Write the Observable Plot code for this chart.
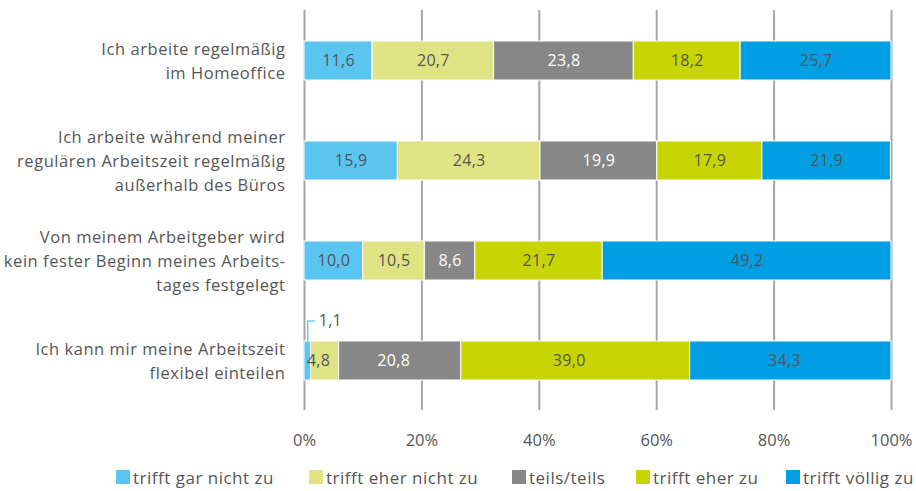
<!DOCTYPE html>
<html>
<head>
<meta charset="utf-8">
<script src="https://cdn.jsdelivr.net/npm/d3@7"></script>
<script src="https://cdn.jsdelivr.net/npm/@observablehq/plot@0.6"></script>
<style>
  body { margin: 0; background: #fff; font-family: "Open Sans", sans-serif; }
  #chart { width: 916px; }
  #chart svg g[aria-label="y-axis tick label"] text { letter-spacing: 0.55px; }
  #chart svg g[aria-label="text"] text { letter-spacing: 0.3px; }
  .legend { position: relative; height: 40px; font-size: 17px; letter-spacing: 0.5px; color: #555; white-space: nowrap; }
  .legend .item { position: absolute; top: 0; height: 40px; display: flex; align-items: center; }
  .legend .sw { width: 14px; height: 14px; margin-right: 3px; display: inline-block; }
</style>
</head>
<body>
<div id="chart"></div>
<script>
const questions = [
  "Ich arbeite regelmäßig\nim Homeoffice",
  "Ich arbeite während meiner\nregulären Arbeitszeit regelmäßig\naußerhalb des Büros",
  "Von meinem Arbeitgeber wird\nkein fester Beginn meines Arbeits-\ntages festgelegt",
  "Ich kann mir meine Arbeitszeit\nflexibel einteilen"
];
const categories = ["trifft gar nicht zu", "trifft eher nicht zu", "teils/teils", "trifft eher zu", "trifft völlig zu"];
const colors = ["#5bc5f2", "#e0e384", "#878787", "#c8d400", "#009ee3"];
const valuesGarNicht = [11.6, 15.9, 10.0, 1.1];
const valuesEherNicht = [20.7, 24.3, 10.5, 4.8];
const valuesTeils = [23.8, 19.9, 8.6, 20.8];
const valuesEherZu = [18.2, 17.9, 21.7, 39.0];
const valuesVoellig = [25.7, 21.9, 49.2, 34.3];
const xTicks = [0, 20, 40, 60, 80, 100];
const legendLeft = [116, 309, 512, 636, 786];

const series = [valuesGarNicht, valuesEherNicht, valuesTeils, valuesEherZu, valuesVoellig];
const data = [];
questions.forEach((q, i) => categories.forEach((c, j) => data.push({q, cat: c, v: series[j][i]})));

const fmt = v => v.toFixed(1).replace(".", ",");
const labelColor = d => d.cat === "teils/teils" ? "#fff" : "#555";
const small = data.filter(d => d.v < 3);

const plot = Plot.plot({
  width: 916,
  height: 457,
  marginLeft: 304,
  marginRight: 25,
  marginTop: 10,
  marginBottom: 47,
  style: { fontFamily: "Open Sans, sans-serif", fontSize: "16px", color: "#555", background: "#fff" },
  x: { domain: [0, 100], label: null },
  y: { domain: questions, paddingInner: 0.61, paddingOuter: 0.305, label: null },
  color: { domain: categories, range: colors },
  marks: [
    Plot.gridX(xTicks, { stroke: "#a6a6a6", strokeWidth: 2, strokeOpacity: 1 }),
    Plot.barX(data, Plot.stackX({ x: "v", y: "q", fill: "cat", order: categories, stroke: "#fff", strokeWidth: 1 })),
    Plot.text(data.filter(d => d.v >= 3), Plot.stackX({ x: "v", y: "q", z: "cat", order: categories, text: d => fmt(d.v), fill: labelColor, fontSize: 16 })),
    Plot.tickX(small, { x: d => d.v / 2, y: "q", dy: -20, insetBottom: 19, stroke: "#5bc5f2", strokeWidth: 1.3 }),
    Plot.ruleY(small, { x1: d => d.v / 2, x2: d => d.v / 2, y: "q", dy: -40, insetRight: -8, stroke: "#5bc5f2", strokeWidth: 1.3 }),
    Plot.text(small, { x: d => d.v / 2, y: "q", dy: -40, dx: 11, textAnchor: "start", text: d => fmt(d.v), fill: "#555", fontSize: 16 }),
    Plot.axisX(xTicks, { tickSize: 0, tickPadding: 24, tickFormat: d => d + "%", fontSize: 16.5, fill: "#555", label: null }),
    Plot.axisY({ tickSize: 0, tickPadding: 19, fontSize: 16.5, lineHeight: 1.45, dy: -2, fill: "#555", label: null })
  ]
});
document.getElementById("chart").appendChild(plot);

const legend = document.createElement("div");
legend.className = "legend";
categories.forEach((c, i) => {
  const it = document.createElement("div");
  it.className = "item";
  it.style.left = legendLeft[i] + "px";
  it.innerHTML = `<span class="sw" style="background:${colors[i]}"></span><span>${c}</span>`;
  legend.appendChild(it);
});
document.getElementById("chart").appendChild(legend);
</script>
</body>
</html>
